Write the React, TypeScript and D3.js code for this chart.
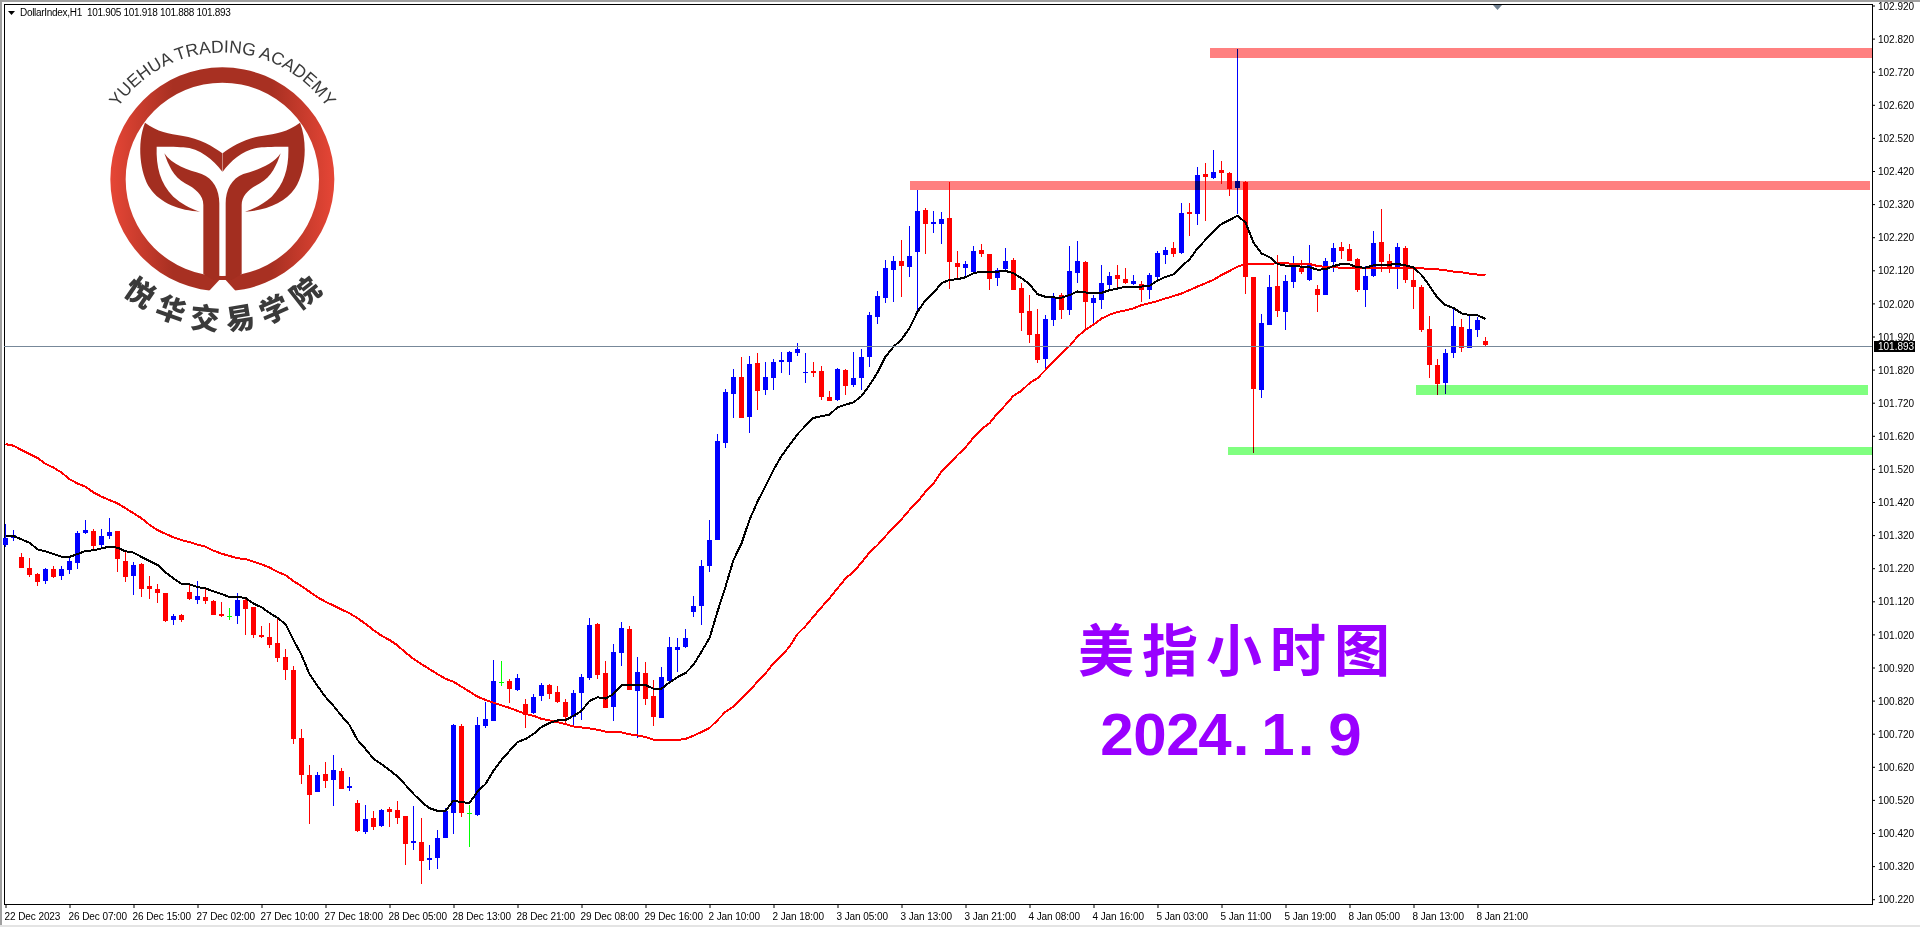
import React, { useEffect, useRef } from 'react';
import * as d3 from 'd3';

const opens = [101.290,101.310,101.254,101.221,101.202,101.182,101.218,101.196,101.215,101.236,101.326,101.332,101.290,101.317,101.332,101.242,101.196,101.233,101.166,101.157,
101.145,101.064,101.079,101.148,101.124,101.133,101.121,101.082,101.076,101.076,101.124,101.103,101.018,101.012,100.994,100.952,100.913,100.707,100.595,100.544,
100.598,100.580,100.607,100.556,100.511,100.423,100.465,100.441,100.493,100.490,100.471,100.390,100.393,100.338,100.344,100.405,100.481,100.743,100.480,100.474,
100.743,100.758,100.875,100.879,100.852,100.810,100.783,100.834,100.867,100.846,100.816,100.771,100.843,100.888,101.051,100.903,100.801,100.964,101.036,100.849,
100.903,100.834,100.768,100.879,100.973,100.982,101.088,101.106,101.227,101.305,101.598,101.746,101.798,101.677,101.840,101.758,101.795,101.843,101.843,101.870,
101.810,101.816,101.816,101.737,101.728,101.819,101.773,101.795,101.858,101.979,102.036,102.121,102.148,102.130,102.175,102.302,102.260,102.260,102.278,102.142,
102.127,102.115,102.181,102.169,102.097,102.124,102.151,102.067,101.997,101.928,101.852,101.970,102.045,102.000,102.112,102.145,102.021,102.030,102.076,102.106,
102.094,102.079,102.079,102.061,102.100,102.166,102.187,102.172,102.296,102.290,102.411,102.399,102.423,102.414,102.369,102.387,102.100,101.758,101.955,102.073,
101.994,102.085,102.127,102.091,102.063,102.045,102.145,102.190,102.184,102.154,102.060,102.103,102.205,102.148,102.130,102.187,102.091,102.070,101.943,101.834,
101.780,101.870,101.949,101.885,101.940,101.905];
const highs = [101.354,101.335,101.266,101.251,101.206,101.221,101.227,101.227,101.254,101.332,101.366,101.338,101.338,101.372,101.332,101.269,101.239,101.235,101.196,101.172,
101.146,101.082,101.082,101.169,101.181,101.157,101.123,101.118,101.100,101.145,101.134,101.104,101.045,101.054,101.070,100.976,100.925,100.734,100.626,100.604,
100.635,100.656,100.616,100.589,100.520,100.505,100.487,100.493,100.499,100.517,100.471,100.502,100.465,100.384,100.429,100.496,100.749,100.749,100.505,100.770,
100.817,100.943,100.940,100.885,100.900,100.825,100.840,100.873,100.870,100.864,100.825,100.852,100.900,101.070,101.055,100.940,100.991,101.058,101.045,100.952,
100.937,100.882,100.922,101.012,101.009,101.036,101.136,101.245,101.366,101.625,101.761,101.822,101.858,101.861,101.870,101.843,101.852,101.873,101.876,101.900,
101.870,101.843,101.831,101.755,101.825,101.822,101.873,101.882,101.994,102.057,102.151,102.163,102.212,102.254,102.363,102.308,102.299,102.296,102.387,102.178,
102.148,102.193,102.200,102.169,102.127,102.187,102.157,102.082,102.045,102.003,101.985,102.052,102.052,102.193,102.209,102.147,102.045,102.136,102.115,102.136,
102.127,102.106,102.088,102.112,102.178,102.190,102.206,102.323,102.323,102.432,102.444,102.483,102.450,102.417,102.789,102.390,102.100,101.988,102.106,102.166,
102.106,102.163,102.151,102.196,102.076,102.157,102.202,102.206,102.199,102.157,102.133,102.239,102.305,102.169,102.202,102.193,102.130,102.076,101.982,101.852,
101.882,102.006,101.973,101.982,101.980,101.918];
const lows = [101.283,101.303,101.221,101.194,101.166,101.172,101.190,101.184,101.203,101.218,101.323,101.275,101.281,101.308,101.209,101.178,101.139,101.133,101.127,101.115,
101.057,101.048,101.057,101.124,101.112,101.112,101.079,101.073,101.064,101.051,101.018,101.009,101.009,100.979,100.937,100.882,100.689,100.568,100.447,100.544,
100.556,100.502,100.553,100.547,100.423,100.417,100.429,100.438,100.438,100.447,100.323,100.369,100.266,100.308,100.311,100.405,100.417,100.468,100.378,100.471,
100.737,100.758,100.864,100.813,100.849,100.737,100.780,100.819,100.825,100.813,100.749,100.743,100.761,100.882,100.885,100.798,100.758,100.925,100.852,100.707,
100.807,100.743,100.768,100.879,100.906,100.979,101.073,101.048,101.209,101.305,101.583,101.674,101.674,101.628,101.698,101.743,101.758,101.810,101.804,101.861,
101.779,101.798,101.728,101.725,101.725,101.743,101.767,101.758,101.828,101.958,102.021,102.024,102.039,102.100,101.991,102.169,102.233,102.199,102.064,102.094,
102.100,102.112,102.160,102.061,102.073,102.121,102.061,101.937,101.901,101.840,101.819,101.952,101.973,101.985,102.082,101.937,101.952,102.003,102.061,102.067,
102.079,102.076,102.024,102.033,102.094,102.139,102.160,102.169,102.224,102.257,102.269,102.396,102.381,102.345,102.290,102.048,101.568,101.734,101.955,101.979,
101.940,102.067,102.109,102.088,101.994,102.045,102.115,102.154,102.148,102.054,102.009,102.100,102.115,102.112,102.063,102.082,102.003,101.934,101.795,101.743,
101.746,101.855,101.873,101.885,101.919,101.888];
const closes = [101.312,101.320,101.221,101.199,101.179,101.218,101.193,101.218,101.242,101.326,101.335,101.287,101.317,101.329,101.248,101.193,101.230,101.157,101.157,101.145,
101.061,101.076,101.064,101.127,101.136,101.121,101.079,101.076,101.076,101.124,101.097,101.018,101.012,100.988,100.949,100.913,100.704,100.595,100.535,100.595,
100.577,100.610,100.553,100.562,100.426,100.462,100.438,100.490,100.484,100.465,100.387,100.396,100.335,100.344,100.405,100.487,100.746,100.481,100.480,100.746,
100.764,100.879,100.875,100.855,100.888,100.777,100.831,100.867,100.840,100.816,100.771,100.843,100.891,101.048,100.897,100.798,100.967,101.039,100.852,100.906,
100.825,100.771,100.891,100.982,100.982,101.009,101.106,101.227,101.305,101.604,101.752,101.798,101.674,101.837,101.755,101.798,101.843,101.849,101.873,101.882,
101.813,101.810,101.737,101.725,101.822,101.770,101.795,101.858,101.985,102.042,102.127,102.148,102.133,102.163,102.299,102.260,102.266,102.275,102.145,102.130,
102.139,102.178,102.169,102.094,102.121,102.148,102.061,101.991,101.925,101.849,101.973,102.039,102.000,102.118,102.148,102.024,102.036,102.082,102.103,102.094,
102.082,102.088,102.061,102.106,102.172,102.181,102.169,102.293,102.290,102.408,102.402,102.417,102.414,102.366,102.390,102.100,101.761,101.961,102.070,101.997,
102.088,102.130,102.115,102.136,102.045,102.148,102.187,102.178,102.148,102.060,102.103,102.202,102.145,102.127,102.190,102.091,102.070,101.940,101.834,101.776,
101.870,101.952,101.885,101.943,101.970,101.893];

const maFast = [101.317,101.317,101.307,101.297,101.277,101.271,101.263,101.255,101.254,101.263,101.272,101.274,101.280,101.285,101.282,101.271,101.267,101.254,101.242,101.230,
101.207,101.189,101.173,101.171,101.163,101.159,101.150,101.142,101.133,101.133,101.130,101.113,101.102,101.085,101.070,101.051,101.003,100.958,100.900,100.864,
100.831,100.804,100.774,100.746,100.701,100.674,100.644,100.628,100.610,100.591,100.565,100.538,100.514,100.495,100.487,100.487,100.518,100.513,100.511,100.545,
100.568,100.608,100.641,100.668,100.695,100.704,100.719,100.740,100.752,100.760,100.761,100.774,100.789,100.819,100.830,100.826,100.840,100.867,100.868,100.868,
100.867,100.856,100.856,100.875,100.891,100.903,100.928,100.968,101.009,101.089,101.164,101.245,101.295,101.366,101.421,101.468,101.517,101.559,101.592,101.625,
101.650,101.674,101.679,101.684,101.706,101.714,101.721,101.740,101.773,101.811,101.859,101.889,101.911,101.945,101.995,102.030,102.052,102.081,102.091,102.093,
102.099,102.111,102.116,102.116,102.116,102.118,102.111,102.096,102.078,102.048,102.040,102.038,102.037,102.045,102.056,102.053,102.052,102.052,102.060,102.065,
102.070,102.071,102.071,102.073,102.089,102.100,102.108,102.132,102.153,102.186,102.212,102.237,102.260,102.272,102.285,102.264,102.204,102.171,102.160,102.139,
102.134,102.133,102.131,102.129,102.122,102.123,102.133,102.139,102.138,102.129,102.128,102.135,102.137,102.137,102.139,102.135,102.129,102.106,102.073,102.037,
102.015,102.006,101.990,101.985,101.984,101.973];
const maSlow = [101.595,101.590,101.577,101.565,101.553,101.535,101.524,101.509,101.489,101.476,101.466,101.449,101.436,101.426,101.416,101.401,101.386,101.371,101.351,101.335,
101.324,101.313,101.305,101.299,101.291,101.285,101.273,101.264,101.257,101.250,101.248,101.240,101.232,101.222,101.209,101.199,101.181,101.166,101.149,101.132,
101.119,101.107,101.095,101.084,101.069,101.052,101.033,101.016,101.003,100.987,100.965,100.946,100.930,100.915,100.900,100.886,100.877,100.862,100.847,100.832,
100.822,100.814,100.806,100.798,100.789,100.780,100.774,100.765,100.760,100.755,100.749,100.742,100.739,100.736,100.732,100.726,100.725,100.724,100.718,100.715,
100.710,100.702,100.701,100.701,100.701,100.704,100.714,100.725,100.737,100.761,100.786,100.802,100.827,100.850,100.877,100.902,100.933,100.955,100.983,101.021,
101.045,101.074,101.102,101.129,101.159,101.189,101.209,101.237,101.267,101.290,101.317,101.343,101.368,101.396,101.421,101.451,101.476,101.512,101.535,101.562,
101.585,101.615,101.640,101.658,101.688,101.713,101.741,101.756,101.779,101.794,101.819,101.844,101.869,101.891,101.920,101.940,101.956,101.974,101.986,101.994,
101.999,102.005,102.015,102.021,102.027,102.035,102.042,102.050,102.060,102.071,102.081,102.091,102.106,102.118,102.131,102.139,102.139,102.139,102.140,102.141,
102.141,102.140,102.140,102.139,102.133,102.130,102.129,102.128,102.128,102.128,102.128,102.128,102.128,102.128,102.128,102.128,102.128,102.126,102.124,102.123,
102.120,102.116,102.114,102.110,102.107,102.106];

const timeLabels = ['22 Dec 2023','26 Dec 07:00','26 Dec 15:00','27 Dec 02:00','27 Dec 10:00','27 Dec 18:00','28 Dec 05:00','28 Dec 13:00','28 Dec 21:00','29 Dec 08:00','29 Dec 16:00','2 Jan 10:00','2 Jan 18:00','3 Jan 05:00','3 Jan 13:00','3 Jan 21:00','4 Jan 08:00','4 Jan 16:00','5 Jan 03:00','5 Jan 11:00','5 Jan 19:00','8 Jan 05:00','8 Jan 13:00','8 Jan 21:00'];
const priceTicks = d3.range(0, 28).map(k => (10022 + k * 10) / 100);

// support / resistance bands drawn by hand on the chart
const bandTop = [102.792, 102.390, 101.773, 101.586];
const bandBottom = [102.761, 102.363, 101.743, 101.562];
const bandFrom = [150.56, 113.06, 176.31, 152.81];
const bandTo = [233.3, 233.05, 232.8, 233.3];
const bandColor = ['#ff8080', '#ff8080', '#80ff80', '#80ff80'];

const lastPrice = 101.893;
const header = 'DollarIndex,H1  101.905 101.918 101.888 101.893';

const W = 1920;
const H = 927;
const axisFont = '"Liberation Sans", Arial, sans-serif';

export default function App() {
	const ref = useRef<SVGGElement>(null);

	useEffect(() => {
		const x = d3.scaleLinear().domain([0, 185]).range([5.5, 1485.5]);
		const y = d3.scaleLinear().domain([100.22, 102.92]).range([899.2, 5.5]);

		const g = d3.select(ref.current);
		g.selectAll('*').remove();

		// candles
		const candles = g.append('g').attr('shape-rendering', 'crispEdges');
		const colorOf = (i: number) =>
			closes[i] > opens[i] ? '#0000ff' : closes[i] < opens[i] ? '#ff0000' : '#00ff00';
		const idx = d3.range(opens.length);

		candles.selectAll('rect.wick').data(idx).enter().append('rect')
			.attr('class', 'wick')
			.attr('x', i => x(i) - 0.5)
			.attr('width', 1)
			.attr('y', i => y(highs[i]))
			.attr('height', i => Math.max(1, y(lows[i]) - y(highs[i])))
			.attr('fill', colorOf);

		candles.selectAll('rect.body').data(idx).enter().append('rect')
			.attr('class', 'body')
			.attr('x', i => x(i) - 2.5)
			.attr('width', 5)
			.attr('y', i => y(Math.max(opens[i], closes[i])))
			.attr('height', i => Math.max(1, Math.abs(y(opens[i]) - y(closes[i]))))
			.attr('fill', colorOf);

		// moving averages
		const line = d3.line<number>().x((d, i) => x(i)).y(d => y(d));
		g.append('path').attr('d', line(maSlow)).attr('fill', 'none').attr('stroke', '#ff0000').attr('stroke-width', 2).attr('shape-rendering', 'crispEdges');
		g.append('path').attr('d', line(maFast)).attr('fill', 'none').attr('stroke', '#000000').attr('stroke-width', 2).attr('shape-rendering', 'crispEdges');

		// bands multiply over the candles, blue turns navy under pink
		g.selectAll('rect.band').data(bandTop).enter().append('rect')
			.attr('class', 'band')
			.attr('x', (d, i) => x(bandFrom[i]))
			.attr('width', (d, i) => x(bandTo[i]) - x(bandFrom[i]))
			.attr('y', d => y(d))
			.attr('height', (d, i) => y(bandBottom[i]) - y(d))
			.attr('fill', (d, i) => bandColor[i])
			.attr('shape-rendering', 'crispEdges')
			.style('mix-blend-mode', 'multiply');

		// last price line
		const py = Math.ceil(y(lastPrice)) + 0.5;
		g.append('line').attr('x1', 4).attr('x2', 1872).attr('y1', py).attr('y2', py)
			.attr('stroke', '#778899').attr('shape-rendering', 'crispEdges');

		// axes
		const yAxis = d3.axisRight(y)
			.tickValues(priceTicks)
			.tickFormat(d => (+d).toFixed(3))
			.tickSize(3)
			.tickPadding(3);
		const ya = g.append('g').attr('transform', 'translate(1872,0)').call(yAxis);
		ya.select('.domain').remove();
		ya.selectAll('text').attr('font-family', axisFont).attr('font-size', 10).attr('fill', '#000').attr('dy', '0.36em');

		const xAxis = d3.axisBottom(x)
			.tickValues(timeLabels.map((d, i) => i * 8))
			.tickFormat((d, i) => timeLabels[i])
			.tickSize(4)
			.tickPadding(3);
		const xa = g.append('g').attr('transform', 'translate(0,904)').call(xAxis);
		xa.select('.domain').remove();
		xa.selectAll('text')
			.attr('font-family', axisFont).attr('font-size', 10).attr('fill', '#000')
			.attr('text-anchor', 'start').attr('dx', -1.5).attr('dy', '0.9em')
			.attr('letter-spacing', -0.08);

		g.append('rect').attr('x', 1874).attr('y', 341).attr('width', 41).attr('height', 11).attr('fill', '#000');
		g.append('text').attr('x', 1878).attr('y', 350).text(lastPrice.toFixed(3))
			.attr('font-family', axisFont).attr('font-size', 10).attr('fill', '#fff');
	}, []);

	return (
		<svg width={W} height={H} style={{ position: 'absolute', left: 0, top: 0, display: 'block' }}>
			<defs>
				<linearGradient id="ringFill" gradientUnits="userSpaceOnUse" x1="331" x2="1003" y1="0" y2="0">
					<stop offset="0" stopColor="#e64636" />
					<stop offset="0.28" stopColor="#a83022" />
					<stop offset="0.72" stopColor="#a83022" />
					<stop offset="1" stopColor="#e64636" />
				</linearGradient>
				<path id="arcTop" d="M 95.5 179.5 A 127 127 0 0 1 349.5 179.5" />
				<path id="arcBottom" d="M 72 179.5 A 150.5 150.5 0 0 0 373 179.5" />
			</defs>
			<rect width={W} height={H} fill="#fff" />

			{/* window frame */}
			<rect x={0} y={0} width={W} height={2} fill="#a0a0a0" />
			<rect x={0} y={0} width={2} height={H} fill="#a0a0a0" />
			<rect x={0} y={925} width={W} height={2} fill="#e4e4e4" />
			<g shapeRendering="crispEdges" stroke="#000">
				<line x1={4} x2={1872.5} y1={4.5} y2={4.5} />
				<line x1={4.5} x2={4.5} y1={4} y2={904} />
				<line x1={4} x2={1872.5} y1={904.5} y2={904.5} />
				<line x1={1872.5} x2={1872.5} y1={4} y2={905} />
			</g>

			{/* logo, traced in 3x crop coordinates */}
			<g transform="scale(0.33333)">
				<path fillRule="evenodd" fill="url(#ringFill)"
					d="M331,538 a336,336 0 1 0 672,0 a336,336 0 1 0 -672,0 Z M377,538 a290,290 0 1 1 580,0 a290,290 0 1 1 -580,0 Z" />
				<polygon points="658,840 625,875 640,885 694,885 709,875 677,840" fill="#fff" />
				<g fill="#a32e20">
					<path d="M435,368 C470,395 510,402 545,407 C600,415 640,440 667,460 L667,515 C640,480 600,445 550,442 C530,440 490,440 470,440 C468,500 480,550 520,590 C545,612 570,625 600,635 C540,632 480,610 450,565 C420,520 410,430 435,368 Z" />
					<path d="M493,460 C505,495 520,530 555,550 C585,565 610,585 610,615 L610,822 L640,840 L658,840 L658,610 C658,570 640,535 605,522 C565,510 515,495 493,460 Z" />
					<g transform="translate(1335,0) scale(-1,1)">
						<path d="M435,368 C470,395 510,402 545,407 C600,415 640,440 667,460 L667,515 C640,480 600,445 550,442 C530,440 490,440 470,440 C468,500 480,550 520,590 C545,612 570,625 600,635 C540,632 480,610 450,565 C420,520 410,430 435,368 Z" />
						<path d="M493,460 C505,495 520,530 555,550 C585,565 610,585 610,615 L610,822 L640,840 L658,840 L658,610 C658,570 640,535 605,522 C565,510 515,495 493,460 Z" />
					</g>
				</g>
			</g>
			<text fontFamily={axisFont} fontSize={17.5} fill="#3a3a3a" textAnchor="middle">
				<textPath href="#arcTop" startOffset="50%">YUEHUA TRADING ACADEMY</textPath>
			</text>
			<text fontFamily='"Noto Sans CJK SC"' fontSize={29} fontWeight={900} fill="#3a3a3a" textAnchor="middle" letterSpacing={9} dx={5}>
				<textPath href="#arcBottom" startOffset="50%">悦华交易学院</textPath>
			</text>

			{/* header */}
			<polygon points="8,11 15,11 11.5,15" fill="#000" />
			<text x={20} y={15.5} fontFamily={axisFont} fontSize={10} letterSpacing={-0.3} fill="#000" xmlSpace="preserve">{header}</text>

			{/* chart marker at the top edge */}
			<polygon points="1493,5 1502,5 1497.5,10" fill="#708090" />

			<g ref={ref} />

			{/* annotation */}
			<text x={1078} y={671} fontFamily='"Noto Sans CJK SC"' fontWeight={700} fontSize={56} letterSpacing={8} fill="#9900ff">美指小时图</text>
			<text y={755} fontFamily={axisFont} fontWeight={700} fontSize={60} fill="#9900ff" textAnchor="middle"
				x="1117 1150 1183 1215 1241 1278 1306 1345">2024.1.9</text>
		</svg>
	);
}
